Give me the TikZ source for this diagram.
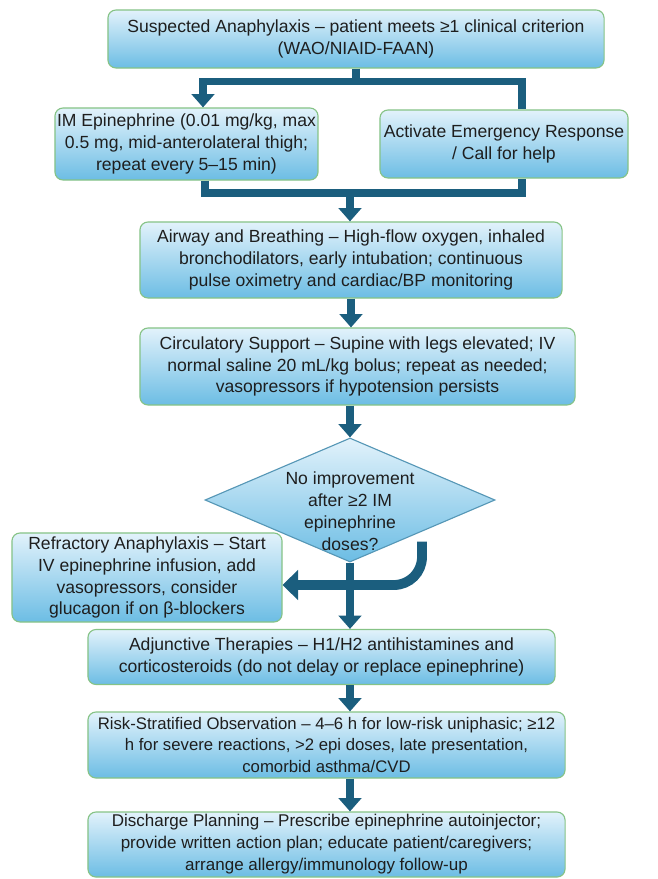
\documentclass[tikz,border=0pt]{standalone}
\usepackage{xcolor}
\usepackage{tikz}
\usepackage{fontspec}
\setmainfont{Liberation Sans}
\definecolor{boxtop}{HTML}{E2F2FB}
\definecolor{boxbottom}{HTML}{6CBDE4}
\definecolor{boxedge}{HTML}{86C386}
\definecolor{flowblue}{HTML}{1B5E7E}
\definecolor{inktext}{HTML}{1E1E1E}
\usetikzlibrary{shapes.geometric, arrows.meta, positioning, calc}

\begin{document}
\begin{tikzpicture}[x=0.025cm, y=-0.025cm,
    stepbox/.style={draw=boxedge, line width=0.8pt, rectangle, rounded corners=0.2cm,
        top color=boxtop, bottom color=boxbottom, align=center, inner sep=0pt,
        text=inktext, font=\fontsize{12.5}{15.6}\selectfont},
    link/.style={draw=flowblue, line width=5.2pt},
    flow/.style={link, -{Triangle[width=16pt, length=9.5pt]}},
    bigflow/.style={draw=flowblue, line width=7pt, -{Triangle[width=21pt, length=11pt]}}]
    \useasboundingbox (0,0) rectangle (657,879);

    \node[stepbox, minimum width=12.4cm, minimum height=1.45cm] (suspect) at (356,39) {
        Suspected Anaphylaxis -- patient meets ≥1 clinical criterion\\ (WAO/NIAID-FAAN)
    };

    \node[stepbox, minimum width=6.575cm, minimum height=1.8cm] (epi) at (186.5,144) {
        IM Epinephrine (0.01 mg/kg, max\\ 0.5 mg, mid-anterolateral thigh;\\ repeat every 5--15 min)
    };

    \node[stepbox, minimum width=6.2cm, minimum height=1.7cm] (call) at (504,144) {
        Activate Emergency Response\\ / Call for help
    };

    \node[stepbox, minimum width=10.55cm, minimum height=1.9cm] (airway) at (351,260) {
        Airway and Breathing -- High-flow oxygen, inhaled\\ bronchodilators, early intubation; continuous\\ pulse oximetry and cardiac/BP monitoring
    };

    \node[stepbox, minimum width=10.875cm, minimum height=1.925cm] (circ) at (357.5,366.5) {
        Circulatory Support -- Supine with legs elevated; IV\\ normal saline 20 mL/kg bolus; repeat as needed;\\ vasopressors if hypotension persists
    };

    \node[stepbox, diamond, rounded corners=0pt, draw=boxbottom!80!black,
        minimum width=7.25cm, minimum height=3.1cm] (decide) at (350,500) {};
    \node[align=center, text=inktext, font=\fontsize{12.5}{15.6}\selectfont] (question) at ($(decide)+(0,11)$) {
        No improvement\\ after ≥2 IM\\ epinephrine\\ doses?
    };

    \node[stepbox, minimum width=6.75cm, minimum height=2.225cm] (refract) at (147,577.5) {
        Refractory Anaphylaxis -- Start\\ IV epinephrine infusion, add\\ vasopressors, consider\\ glucagon if on β-blockers
    };

    \node[stepbox, minimum width=11.675cm, minimum height=1.375cm] (adjunct) at (321.5,657) {
        Adjunctive Therapies -- H1/H2 antihistamines and\\ corticosteroids (do not delay or replace epinephrine)
    };

    \node[stepbox, minimum width=11.925cm, minimum height=1.65cm,
        font=\fontsize{11.9}{15.6}\selectfont] (observe) at (326.5,745) {
        Risk-Stratified Observation -- 4--6 h for low-risk uniphasic; ≥12\\ h for severe reactions, >2 epi doses, late presentation,\\ comorbid asthma/CVD
    };

    \node[stepbox, minimum width=11.925cm, minimum height=1.625cm,
        font=\fontsize{12.1}{15.6}\selectfont] (discharge) at (326.5,844.5) {
        Discharge Planning -- Prescribe epinephrine autoinjector;\\ provide written action plan; educate patient/caregivers;\\ arrange allergy/immunology follow-up
    };

    % fork and merge
    \coordinate (fork) at ($(suspect.south)+(0,13)$);
    \coordinate (join) at (350,193);
    \draw[link] (suspect.south) -- (fork);
    \draw[flow, {Triangle[width=16pt, length=9.5pt]}-] ($(epi.north)+(16.5,0)$) |- (fork) -| ($(call.north)+(18,0)$);
    \draw[link] ($(epi.south)+(18.5,0)$) |- (join) -| ($(call.south)+(18,0)$);
    \draw[flow] ($(join)+(0,-2.5)$) -- (join |- airway.north);

    \draw[flow] (airway.south) -- (airway.south |- circ.north);
    \draw[flow] (circ.south -| decide.north) -- (decide.north);
    \draw[bigflow, rounded corners=0.7cm] ($(decide.south)+(72,-21)$) |- ($(refract.east)+(0,7.5)$);
    \draw[flow] (decide.south) -- (decide.south |- adjunct.north);
    \draw[flow] (decide.south |- adjunct.south) -- (decide.south |- observe.north);
    \draw[flow] (decide.south |- observe.south) -- (decide.south |- discharge.north);
\end{tikzpicture}
\end{document}
